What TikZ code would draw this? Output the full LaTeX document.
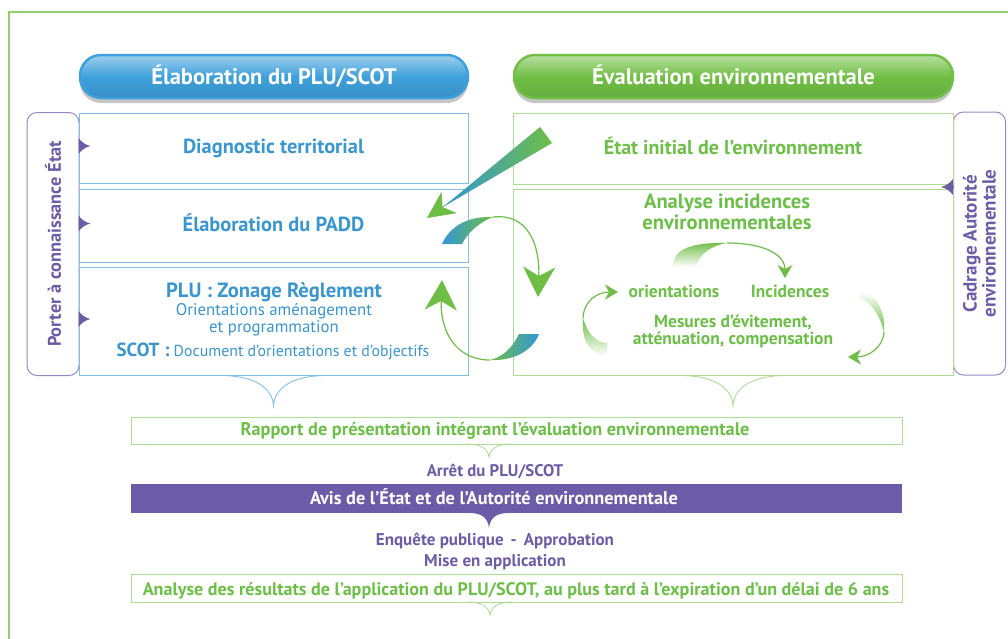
\documentclass[tikz,border=0pt]{standalone}
\usepackage{fontspec}
\setmainfont{PT Sans}
\usetikzlibrary{arrows.meta, positioning, shadows}

\definecolor{txtblue}{RGB}{58,150,207}
\definecolor{boxblue}{RGB}{130,192,232}
\definecolor{headblue}{RGB}{62,160,220}
\definecolor{txtgreen}{RGB}{108,191,71}
\definecolor{boxgreen}{RGB}{172,220,148}
\definecolor{headgreen}{RGB}{113,191,68}
\definecolor{tabpurple}{RGB}{108,91,167}
\definecolor{tabline}{RGB}{150,135,200}
\definecolor{framegreen}{RGB}{143,207,110}
\definecolor{agreen}{RGB}{110,190,70}
\definecolor{ablue}{RGB}{51,150,214}

\tikzset{
  pnotch/.pic={\fill[tabpurple] (0,-8) .. controls (3,-4) and (7,-1) .. (12,0)
    .. controls (7,1) and (3,4) .. (0,8) -- cycle;},
  pbrace/.pic={\draw[line width=0.9pt] (-53,0) .. controls (-18,0) and (-1,13) .. (0,30)
    .. controls (1,13) and (18,0) .. (53,0);},
  psmallbrace/.pic={\draw[line width=0.8pt] (-22,0) .. controls (-8,0) and (-1,5) .. (0,13)
    .. controls (1,5) and (8,0) .. (22,0);},
  pdrop/.pic={\fill (-19,0) .. controls (-6,0) and (-1,6) .. (0,15)
    .. controls (1,6) and (6,0) .. (19,0) -- cycle;}
}

\begin{document}
\begin{tikzpicture}
    [x=1pt, y=-1pt,
    head/.style={rectangle, rounded corners=21pt, minimum height=43, line width=2.5pt,
    text=white, font=\bfseries\fontsize{22.5}{26}\selectfont, text height=15pt, text depth=0pt,
    drop shadow={shadow xshift=0pt, shadow yshift=-5pt, opacity=0.45}},
    blockL/.style={rectangle, draw=boxblue, line width=1pt, fill=white, minimum width=389,
    text=txtblue, font=\bfseries\fontsize{20.4}{24}\selectfont, text height=15pt, text depth=4pt},
    blockR/.style={rectangle, draw=boxgreen, line width=1pt, fill=white, minimum width=440,
    text=txtgreen, font=\bfseries\fontsize{20}{24}\selectfont, text height=15pt, text depth=4pt},
    tab/.style={rectangle, draw=tabline, line width=1pt, rounded corners=10pt, rotate=90,
    minimum width=263, minimum height=52, text=tabpurple, align=center},
    wide/.style={rectangle, minimum width=771, line width=1pt},
    txtL/.style={anchor=base, text=txtblue},
    txtR/.style={anchor=base, text=txtgreen, font=\bfseries\fontsize{17.5}{20}\selectfont},
    txtP/.style={anchor=base, text=tabpurple, font=\bfseries\fontsize{17}{20}\selectfont},
    bigtip/.style={draw=agreen, line width=1.2pt, -{Stealth[length=30pt, width=32pt, inset=9pt]}},
    smalltip/.style={draw=agreen, line width=1.2pt, -{Stealth[length=13pt, width=15pt, inset=4pt]}}]

    \useasboundingbox (0,0) rectangle (1008,638);
    \draw[framegreen, line width=1.2pt] (9,640) -- (9,12) -- (1010,12);

    % headers
    \node[head, minimum width=388, draw=headblue, top color=headblue!50!white,
      bottom color=headblue!90!black, middle color=headblue] (head_elab) at (274,76.5)
      {Élaboration du PLU/SCOT};
    \node[head, minimum width=439, draw=headgreen, top color=headgreen!50!white,
      bottom color=headgreen!90!black, middle color=headgreen] (head_eval) at (733.5,76.5)
      {Évaluation environnementale};

    % side tabs
    \node[tab, font=\bfseries\fontsize{18.3}{20}\selectfont] (tab_pac) at (53,244)
      {Porter à connaissance État};
    \node[tab, font=\bfseries\fontsize{19}{19}\selectfont] (tab_cadrage) at (979.5,243.5)
      {Cadrage Autorité\\environnementale};

    % left column
    \node[blockL, minimum height=70] (diag_terr) at (273.5,148) {Diagnostic territorial};
    \node[blockL, minimum height=73] (elab_padd) at (273.5,225.5) {Élaboration du PADD};
    \node[blockL, minimum height=108] (plu_zonage) at (273.5,321) {};
    \node[txtL, font=\bfseries\fontsize{20.6}{24}\selectfont] at (274,297) {PLU : Zonage Règlement};
    \node[txtL, font=\fontsize{16.8}{19}\selectfont] at (274,315) {Orientations aménagement};
    \node[txtL, font=\fontsize{16.8}{19}\selectfont] at (274,332) {et programmation};
    \node[txtL, font=\fontsize{15.9}{19}\selectfont] at (273,356)
      {{\bfseries\fontsize{19}{22}\selectfont SCOT :} Document d’orientations et d’objectifs};

    % right column
    \node[blockR, minimum height=71] (etat_init) at (733,148.5) {État initial de l’environnement};
    \node[blockR, minimum height=186] (analyse_inc) at (733,282) {};
    \node[txtR, font=\bfseries\fontsize{20.6}{24}\selectfont] at (727,208) {Analyse incidences};
    \node[txtR, font=\bfseries\fontsize{20.6}{24}\selectfont] at (727,229) {environnementales};
    \node[txtR] (orient) at (674,297) {orientations};
    \node[txtR] (incid) at (790,297) {Incidences};
    \node[txtR] at (733,327) {Mesures d’évitement,};
    \node[txtR] at (733,344) {atténuation, compensation};

    \foreach \b in {diag_terr, elab_padd, plu_zonage}
      \pic at ([yshift=2pt]\b.west) {pnotch};
    \pic[xscale=-1] at (953,187) {pnotch};
    \pic[color=boxblue] at (plu_zonage.south) {pbrace};
    \pic[color=boxgreen] at (analyse_inc.south) {pbrace};

    % bottom sequence
    \node[wide, draw=boxgreen, minimum height=27] (rapport) at (516.5,430.5) {};
    \node[txtR, font=\bfseries\fontsize{18.3}{20}\selectfont] at (495,435)
      {Rapport de présentation intégrant l’évaluation environnementale};
    \pic[color=boxgreen] at (489,444) {psmallbrace};
    \node[txtP, font=\bfseries\fontsize{16.8}{20}\selectfont] (arret) at (495,476) {Arrêt du PLU/SCOT};
    \node[wide, fill=tabpurple, minimum height=29] (avis) at (516.5,498.5) {};
    \node[anchor=base, text=white, font=\bfseries\fontsize{18.3}{20}\selectfont] at (494,504)
      {Avis de l’État et de l’Autorité environnementale};
    \pic[color=tabpurple] at (489,513) {pdrop};
    \node[txtP] (enquete) at (495,545) {Enquête publique\hspace{7pt}-\hspace{7pt}Approbation};
    \node[txtP] (mise) at (495,566) {Mise en application};
    \node[wide, draw=boxgreen, minimum height=28] (analyse_res) at (516.5,588) {};
    \node[txtR, font=\bfseries\fontsize{18.1}{20}\selectfont] at (516,595)
      {Analyse des résultats de l’application du PLU/SCOT, au plus tard à l’expiration d’un délai de 6 ans};
    \pic[color=boxgreen] at (490,602) {psmallbrace};

    % arrows between the two columns
    \coordinate (d_tail) at (545,135);
    \coordinate (d_head) at (427,218);
    \draw[agreen, line width=0.5pt, -{Stealth[length=27pt, width=26pt, inset=8pt]}] (d_tail) -- (d_head);
    \shade[left color=ablue, right color=agreen] (540,127) -- (552,143) -- (443,207) -- cycle;

    \coordinate (up_tip) at (493,217);
    \coordinate (up_head) at (538,297);
    \shade[left color=ablue, right color=agreen] (442,244) .. controls (450,226) and (468,216) .. (up_tip)
      .. controls (480,222) and (468,232) .. (462,244) -- cycle;
    \draw[bigtip] (up_tip) .. controls (528,213) and (540,245) .. (up_head);

    \coordinate (lo_tip) at (490,360);
    \coordinate (lo_head) at (442,280);
    \shade[left color=agreen, right color=ablue] (519,334) .. controls (513,347) and (503,357) .. (lo_tip)
      .. controls (512,361) and (532,352) .. (539,334) -- cycle;
    \draw[bigtip] (lo_tip) .. controls (455,360) and (440,330) .. (lo_head);

    % cycle inside the analysis box
    \coordinate (c1_tip) at (727,243);
    \shade[top color=agreen, bottom color=white] (673,267) .. controls (672,248) and (695,242) .. (c1_tip)
      .. controls (710,246) and (698,255) .. (697,267) -- cycle;
    \draw[smalltip] (c1_tip) .. controls (765,243) and (785,255) .. (785,278);

    \coordinate (c2_tip) at (884,332);
    \shade[top color=white, bottom color=agreen] (860,293) .. controls (876,292) and (886,312) .. (c2_tip)
      .. controls (880,316) and (872,303) .. (860,298) -- cycle;
    \draw[smalltip] (c2_tip) .. controls (883,348) and (868,357) .. (848,357);

    \coordinate (c3_tip) at (583,318);
    \shade[top color=agreen, bottom color=white] (607,356) .. controls (589,354) and (581,340) .. (c3_tip)
      .. controls (588,334) and (595,342) .. (607,343) -- cycle;
    \draw[smalltip] (c3_tip) .. controls (584,300) and (598,292) .. (618,292);
\end{tikzpicture}
\end{document}
